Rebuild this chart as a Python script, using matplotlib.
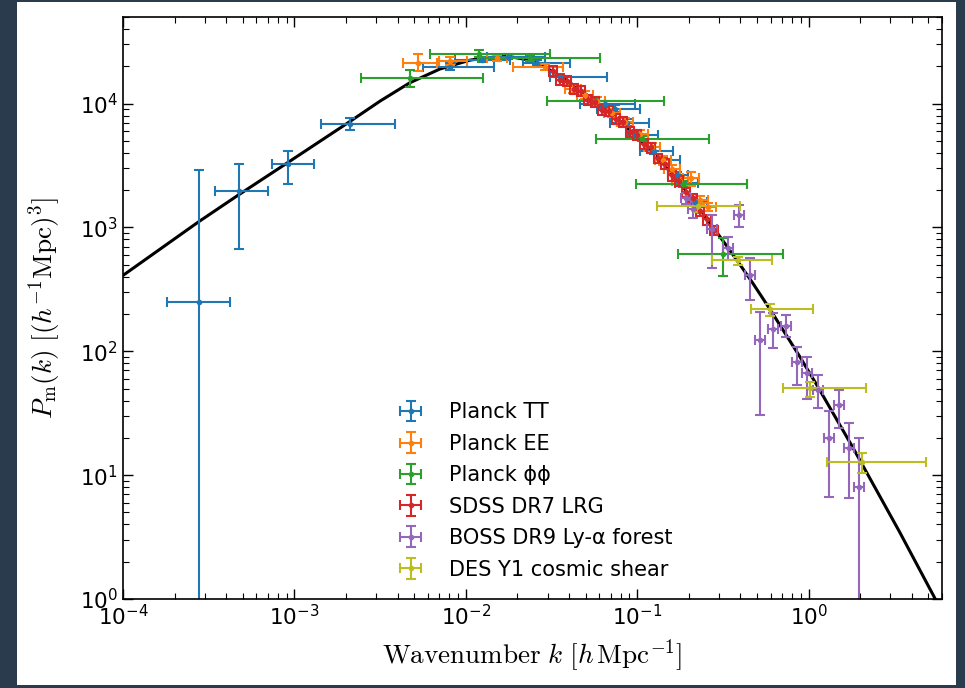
import numpy as np
import matplotlib
matplotlib.use("Agg")
import matplotlib.pyplot as plt
from matplotlib.patches import Rectangle

# linear matter power spectrum (best fit), P in (Mpc/h)^3
theory_k = [1.0e-4, 2.77e-4, 4.69e-4, 9.29e-4, 2.08e-3, 3.16e-3, 4.71e-3, 7.05e-3,
            1.054e-2, 1.256e-2, 1.758e-2, 2.36e-2, 2.594e-2, 3.681e-2, 5.395e-2,
            7.907e-2, 0.1230, 0.1841, 0.2541, 0.3327, 0.3963, 0.4710, 0.5929,
            0.8872, 1.114, 1.807, 2.065, 3.396, 5.572]
theory_P = [410, 1114, 1820, 3388, 7079, 10470, 14720, 19000,
            22390, 23280, 24100, 22390, 21480, 16220, 11070,
            7261, 4083, 2143, 1180, 707.9, 503.5, 356.5, 219.8,
            90.6, 53.6, 16.79, 12.02, 3.467, 0.957]

# Planck TT
tt_k = [2.77e-4, 4.75e-4, 9.17e-4, 2.11e-3, 8.07e-3, 1.24e-2, 1.76e-2, 2.59e-2, 3.53e-2,
        6.46e-2, 7.40e-2, 8.69e-2, 9.67e-2, 0.1247, 0.141, 0.170, 0.1815, 0.216]
tt_k_lo = [1.81e-4, 3.44e-4, 7.39e-4, 1.43e-3, 5.61e-3, 8.63e-3, 1.33e-2, 2.15e-2, 3.09e-2,
           4.62e-2, 5.81e-2, 6.92e-2, 8.81e-2, 0.1034, 0.1265, 0.151, 0.1656, 0.197]
tt_k_hi = [4.21e-4, 7.01e-4, 1.30e-3, 3.85e-3, 1.46e-2, 1.81e-2, 2.89e-2, 4.04e-2, 6.64e-2,
           9.67e-2, 0.1034, 0.1167, 0.1317, 0.161, 0.177, 0.197, 0.2255, 0.254]
tt_P = [248, 1950, 3222, 6900, 19870, 22630, 23930, 21420, 16510,
        10000, 9120, 7030, 5620, 4178, 3470, 2626, 2264, 1590]
tt_P_lo = [0.01, 665, 2222, 6170, 18500, 21500, 22700, 20300, 15600,
           9450, 8620, 6650, 5310, 3950, 3280, 2480, 2140, 1500]
tt_P_hi = [2884, 3281, 4178, 7710, 21300, 23800, 25200, 22600, 17400,
           10580, 9650, 7440, 5940, 4420, 3670, 2780, 2390, 1680]

# Planck EE
ee_k = [5.25e-3, 8.07e-3, 1.517e-2, 2.89e-2, 0.0421, 0.0494, 0.0581, 0.0710, 0.0846,
        0.1034, 0.1215, 0.141, 0.1589, 0.1769, 0.205, 0.2314, 0.2577]
ee_k_lo = [4.29e-3, 6.96e-3, 1.33e-2, 1.88e-2, 0.0378, 0.0444, 0.0522, 0.0638, 0.0760,
           0.0929, 0.1092, 0.1267, 0.1428, 0.1589, 0.1842, 0.2079, 0.2315]
ee_k_hi = [6.77e-3, 1.013e-2, 1.734e-2, 3.68e-2, 0.0469, 0.0550, 0.0647, 0.0790, 0.0942,
           0.1151, 0.1352, 0.1569, 0.1769, 0.1969, 0.2282, 0.2575, 0.2868]
ee_P = [21410, 22230, 23500, 19870, 13210, 11820, 10570, 8460, 7160,
        5730, 4420, 3470, 2990, 2390, 2485, 1651, 1450]
ee_P_lo = [18460, 20630, 22230, 18800, 12270, 10970, 9810, 7860, 6650,
           5320, 4100, 3220, 2780, 2220, 2141, 1533, 1346]
ee_P_hi = [25310, 23930, 24850, 21020, 14230, 12730, 11380, 9110, 7710,
           6170, 4760, 3740, 3220, 2570, 2777, 1778, 1562]

# Planck lensing
pp_k = [4.72e-3, 1.19e-2, 2.36e-2, 5.65e-2, 0.1062, 0.1842, 0.315]
pp_k_lo = [2.44e-3, 6.17e-3, 1.175e-2, 2.97e-2, 5.73e-2, 9.80e-2, 0.1722]
pp_k_hi = [1.257e-2, 3.09e-2, 6.04e-2, 0.1427, 0.2611, 0.435, 0.7054]
pp_P = [16210, 25310, 23500, 10570, 5220, 2222, 606]
pp_P_lo = [13720, 23930, 22230, 10000, 4940, 2102, 402.5]
pp_P_hi = [18800, 27260, 24850, 11180, 5520, 2350, 815]

# SDSS DR7 LRG
lrg_k = [3.215e-2, 3.53e-2, 3.88e-2, 4.26e-2, 4.68e-2, 5.14e-2, 5.65e-2, 6.21e-2,
         6.82e-2, 7.49e-2, 8.23e-2, 9.04e-2, 9.93e-2, 0.1091, 0.1199, 0.1317,
         0.1446, 0.1589, 0.1746, 0.1918, 0.2107, 0.2314, 0.2542, 0.2793]
lrg_k_err = [0.0017, 0.0019, 0.0021, 0.0023, 0.0025, 0.0028, 0.0030, 0.0033,
             0.0037, 0.0040, 0.0044, 0.0049, 0.0053, 0.0059, 0.0065, 0.0071,
             0.0078, 0.0086, 0.0094, 0.0104, 0.0114, 0.0125, 0.0137, 0.0151]
lrg_P = [18460, 15610, 15330, 13210, 12730, 10770, 10380, 8945,
         8780, 7570, 7160, 5945, 5623, 4758, 4420, 3602,
         3281, 2626, 2390, 1916, 1713, 1346, 1160, 946]
lrg_P_err = [1660, 1400, 1380, 1190, 1150, 970, 930, 800,
             790, 680, 640, 540, 510, 430, 400, 320,
             300, 240, 215, 170, 155, 120, 105, 85]

# BOSS DR9 Lyman-alpha forest
lya_k = [0.1918, 0.2107, 0.272, 0.337, 0.3907, 0.453, 0.518, 0.617,
         0.734, 0.851, 0.973, 1.128, 1.496, 1.308, 1.711, 1.956]
lya_P = [1713, 1398, 963.6, 677, 1250, 410, 122.7, 150.4,
         159, 81.5, 66.5, 48.5, 36.7, 19.9, 16.5, 8.0]
lya_P_lo = [1533, 1182, 467, 542, 1000, 258, 30.5, 105.7,
            129.7, 53.2, 41.0, 34.7, 23.9, 6.65, 6.52, 0.01]
lya_P_hi = [1881, 1651, 1250, 831, 1504, 562, 206, 202.5,
            195, 107.7, 89.4, 64.0, 48.5, 32.8, 26.3, 19.9]

# DES Y1 cosmic shear
des_k = [0.2253, 0.3855, 0.5925, 1.013, 2.037]
des_k_lo = [0.13, 0.272, 0.4589, 0.7054, 1.274]
des_k_hi = [0.396, 0.6086, 1.055, 2.149, 4.81]
des_P = [1477, 542, 218, 50.3, 12.73]
des_P_lo = [1321, 494, 191.6, 42.6, 10.38]
des_P_hi = [1591, 573, 239, 56.2, 15.05]


def asym(v, lo, hi):
    v = np.asarray(v, dtype=float)
    return [v - np.asarray(lo, dtype=float), np.asarray(hi, dtype=float) - v]


fig = plt.figure(figsize=(9.65, 6.88), dpi=100, facecolor="#2b3b4e")
fig.patches.append(Rectangle((17 / 965, 3 / 688), 939 / 965, 683 / 688,
                             transform=fig.transFigure, facecolor="white",
                             edgecolor="none", zorder=-10))
ax = fig.add_axes([0.1275, 0.1294, 0.8487, 0.8459])
ax.set_facecolor("white")

ax.plot(theory_k, theory_P, color="black", lw=2.2, zorder=1)

eb = dict(fmt="o", ms=3, elinewidth=1.5, capsize=3.5, capthick=1.5, zorder=2)
ax.errorbar(tt_k, tt_P, xerr=asym(tt_k, tt_k_lo, tt_k_hi),
            yerr=asym(tt_P, tt_P_lo, tt_P_hi), color="C0", label="Planck TT", **eb)
ax.errorbar(ee_k, ee_P, xerr=asym(ee_k, ee_k_lo, ee_k_hi),
            yerr=asym(ee_P, ee_P_lo, ee_P_hi), color="C1", label="Planck EE", **eb)
ax.errorbar(pp_k, pp_P, xerr=asym(pp_k, pp_k_lo, pp_k_hi),
            yerr=asym(pp_P, pp_P_lo, pp_P_hi), color="C2", label="Planck \u03d5\u03d5", **eb)
ax.errorbar(lrg_k, lrg_P, xerr=lrg_k_err, yerr=lrg_P_err,
            color="C3", label="SDSS DR7 LRG", **eb)
lya_k_arr = np.asarray(lya_k)
ax.errorbar(lya_k, lya_P, xerr=[lya_k_arr * 0.065, lya_k_arr * 0.07],
            yerr=asym(lya_P, lya_P_lo, lya_P_hi), color="C4",
            label="BOSS DR9 Ly-\u03b1 forest", **eb)
ax.errorbar(des_k, des_P, xerr=asym(des_k, des_k_lo, des_k_hi),
            yerr=asym(des_P, des_P_lo, des_P_hi), color="C8",
            label="DES Y1 cosmic shear", **eb)

ax.set_xscale("log")
ax.set_yscale("log")
ax.set_xlim(1e-4, 6.0)
ax.set_ylim(1, 5e4)

ax.tick_params(which="both", direction="in", top=True, right=True, labelsize=15.5)
ax.tick_params(which="major", length=7, width=1.0)
ax.tick_params(which="minor", length=4, width=0.8)
for s in ax.spines.values():
    s.set_linewidth(1.2)

ax.set_xlabel(r"$\mathrm{Wavenumber}\ k\ [h\,\mathrm{Mpc}^{-1}]$", fontsize=19.5,
              math_fontfamily="cm", labelpad=6)
ax.set_ylabel(r"$P_{\rm m}(k)\ [(h^{-1}\mathrm{Mpc})^3]$", fontsize=19.5,
              math_fontfamily="cm", labelpad=12)

ax.legend(frameon=False, loc="lower left", bbox_to_anchor=(0.3135, 0.001),
          fontsize=15, handlelength=1.15, handletextpad=1.25, labelspacing=0.55)

fig.savefig("out.png", dpi=100, facecolor=fig.get_facecolor())
